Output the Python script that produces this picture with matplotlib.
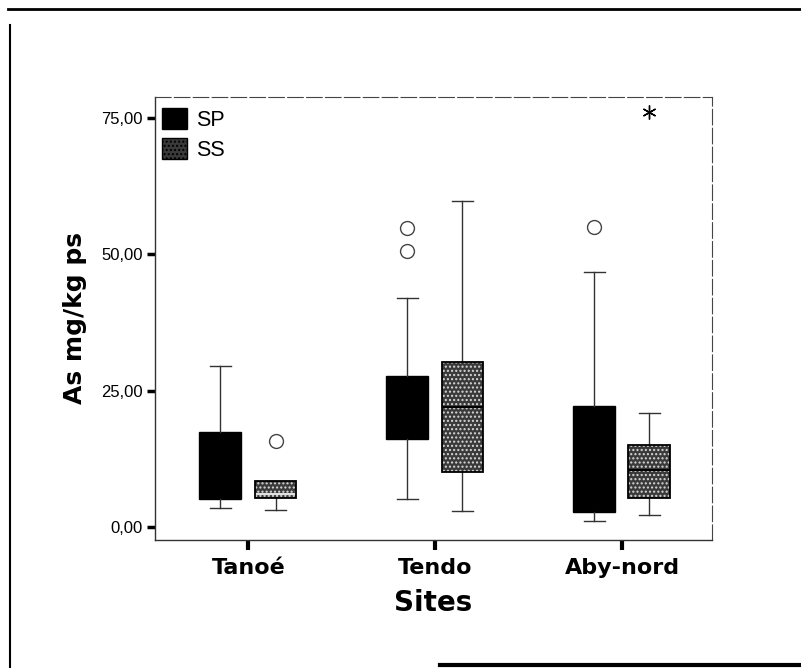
import matplotlib
matplotlib.use("Agg")
import matplotlib.pyplot as plt
from matplotlib.lines import Line2D
from matplotlib.patches import PathPatch, Patch
from matplotlib.ticker import FuncFormatter
import numpy as np

sites = ["Tanoé", "Tendo", "Aby-nord"]
series = ["SP", "SS"]

# box statistics (mg/kg ps)
sp_whislo = [3.5, 5.1, 1.1]
sp_q1 = [5.1, 16.1, 2.8]
sp_med = [10.0, 21.0, 8.0]
sp_q3 = [17.4, 27.7, 22.2]
sp_whishi = [29.5, 42.0, 46.8]
sp_outliers = [[], [54.9, 50.6], [55.0]]
sp_extremes = [[], [], []]

ss_whislo = [3.1, 2.9, 2.2]
ss_q1 = [5.3, 10.1, 5.3]
ss_med = [6.0, 22.0, 10.5]
ss_q3 = [8.4, 30.3, 15.0]
ss_whishi = [8.4, 59.8, 20.9]
ss_outliers = [[15.8], [], []]
ss_extremes = [[], [], [76.1]]

yticks = [0, 25, 50, 75]


def _stats(lo, q1, med, q3, hi, fl):
    return [
        dict(whislo=a, q1=b, med=c, q3=d, whishi=e, fliers=f)
        for a, b, c, d, e, f in zip(lo, q1, med, q3, hi, fl)
    ]


fig = plt.figure(figsize=(8.01, 6.68), dpi=100)
ax = fig.add_axes([155 / 801, 128 / 668, 557 / 801, 443 / 668])

x = np.arange(len(sites))
off_sp, off_ss = -0.15, 0.145
width = 0.224

flierprops = dict(marker="o", markersize=10, markerfacecolor="none",
                  markeredgecolor="#444444", markeredgewidth=1.0)
common = dict(widths=width, patch_artist=True, showfliers=True,
              whiskerprops=dict(color="#333333", linewidth=1.0),
              capprops=dict(color="#333333", linewidth=1.0),
              flierprops=flierprops, capwidths=0.11)

bp_sp = ax.bxp(_stats(sp_whislo, sp_q1, sp_med, sp_q3, sp_whishi, sp_outliers),
               positions=x + off_sp,
               boxprops=dict(facecolor="black", edgecolor="black", linewidth=1.0),
               medianprops=dict(color="black", linewidth=1.2), **common)

bp_ss = ax.bxp(_stats(ss_whislo, ss_q1, ss_med, ss_q3, ss_whishi, ss_outliers),
               positions=x + off_ss,
               boxprops=dict(facecolor="#3a3a3a", edgecolor="#d8d8d8",
                             linewidth=0, hatch="...."),
               medianprops=dict(color="black", linewidth=1.5), **common)

# outline of the speckled boxes
for box in bp_ss["boxes"]:
    ax.add_patch(PathPatch(box.get_path(), facecolor="none",
                           edgecolor="black", linewidth=1.3, zorder=box.get_zorder() + 0.1))
# Tanoé SS median appears light
bp_ss["medians"][0].set_color("#e0e0e0")

# extreme values (asterisks)
for i, vals in enumerate(ss_extremes):
    if vals:
        ax.plot([x[i] + off_ss] * len(vals), vals, linestyle="none",
                marker=(6, 2, 0), markersize=10, color="black", markeredgewidth=1.0)

ax.set_xlim(-0.5, 2.48)
ax.set_ylim(-2.4, 78.9)

ax.set_xticks(x)
ax.set_xticklabels(sites, fontfamily="DejaVu Sans", fontweight="bold", fontsize=16)
ax.set_yticks(yticks)
ax.yaxis.set_major_formatter(FuncFormatter(lambda v, p: f"{v:.2f}".replace(".", ",")))
for lab in ax.get_yticklabels():
    lab.set_fontfamily("Liberation Sans")
    lab.set_fontsize(12)
ax.tick_params(axis="y", length=6, width=2.5, pad=3, color="black")
ax.tick_params(axis="x", length=7, width=3, pad=6, color="black")

ax.set_ylabel("As mg/kg ps", fontfamily="DejaVu Sans", fontweight="bold",
              fontsize=18, labelpad=10)
ax.set_xlabel("Sites", fontfamily="DejaVu Sans", fontweight="bold",
              fontsize=20, labelpad=8)

for side in ["top", "right"]:
    ax.spines[side].set_linestyle((0, (14, 3)))
    ax.spines[side].set_linewidth(0.8)
    ax.spines[side].set_color("#444444")
for side in ["left", "bottom"]:
    ax.spines[side].set_linewidth(1.0)
    ax.spines[side].set_color("#333333")

handles = [
    Patch(facecolor="black", edgecolor="black"),
    Patch(facecolor="#3a3a3a", edgecolor="black", hatch="...."),
]
leg = ax.legend(handles, series, loc="upper left", bbox_to_anchor=(0.0126, 0.975),
                borderaxespad=0, borderpad=0, frameon=False,
                prop=dict(family="Liberation Sans", size=15.5),
                handlelength=1.16, handleheight=1.1, handletextpad=0.4,
                labelspacing=0.35)

# page frame lines
fig.add_artist(Line2D([10 / 801, 10 / 801], [0, 1 - 25 / 668], color="black", linewidth=1.5))
fig.add_artist(Line2D([8 / 801, 1], [1 - 9 / 668, 1 - 9 / 668], color="black", linewidth=2.0))
fig.add_artist(Line2D([440 / 801, 1], [3 / 668, 3 / 668], color="black", linewidth=3.0))

fig.savefig("out.png", dpi=100)
